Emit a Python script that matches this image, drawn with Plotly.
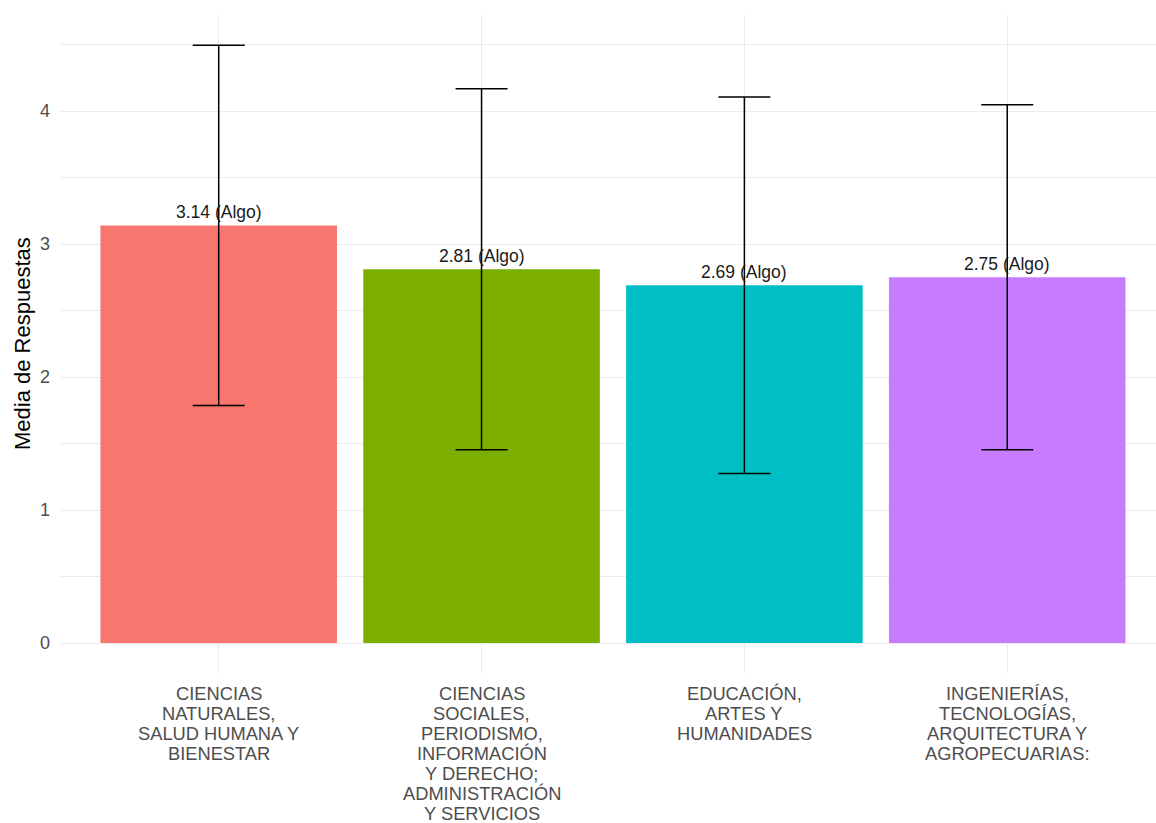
import plotly.graph_objects as go

categories = [
    "CIENCIAS\nNATURALES,\nSALUD HUMANA Y\nBIENESTAR",
    "CIENCIAS\nSOCIALES,\nPERIODISMO,\nINFORMACIÓN\nY DERECHO;\nADMINISTRACIÓN\nY SERVICIOS",
    "EDUCACIÓN,\nARTES Y\nHUMANIDADES",
    "INGENIERÍAS,\nTECNOLOGÍAS,\nARQUITECTURA Y\nAGROPECUARIAS:",
]
means = [3.14, 2.81, 2.69, 2.75]
sds = [1.354, 1.357, 1.415, 1.297]
value_labels = ["3.14 (Algo)", "2.81 (Algo)", "2.69 (Algo)", "2.75 (Algo)"]
colors = ["#F8766D", "#7CAE00", "#00BFC4", "#C77CFF"]
y_ticks = [0, 1, 2, 3, 4]

FONT = "Liberation Sans, Arial, sans-serif"

fig = go.Figure()
fig.add_trace(go.Bar(
    x=categories, y=means, width=0.9,
    marker=dict(color=colors, line=dict(width=0)),
    error_y=dict(type="data", array=sds, visible=True, color="black", thickness=1.5, width=26),
    hoverinfo="skip", showlegend=False,
))

annotations = []
for c, m, lab in zip(categories, means, value_labels):
    annotations.append(dict(x=c, y=m, xref="x", yref="y", text=lab, showarrow=False,
                            yanchor="bottom", yshift=1, font=dict(family=FONT, size=17.5, color="#1a1a1a")))
for c in categories:
    for i, line in enumerate(c.split("\n")):
        annotations.append(dict(x=c, y=0, xref="x", yref="paper", text=line, showarrow=False,
                                xanchor="center", yanchor="middle", yshift=-20 - 20.0 * i,
                                borderpad=0,
                                font=dict(family=FONT, size=18.3, color="#4D4D4D")))
annotations.append(dict(x=0, y=0.5, xref="paper", yref="paper", text="Media de Respuestas",
                        showarrow=False, textangle=-90, xanchor="center", yanchor="middle",
                        xshift=-39, font=dict(family=FONT, size=22, color="black")))

fig.update_layout(
    width=1156, height=823,
    margin=dict(l=61, r=0, t=15, b=150),
    paper_bgcolor="white", plot_bgcolor="white",
    annotations=annotations,
    bargap=0.1,
)
fig.update_xaxes(
    type="category", range=[-0.6, 3.566], showticklabels=False,
    showgrid=True, gridcolor="#EBEBEB", gridwidth=1.2, zeroline=False, showline=False, ticks="",
)
fig.update_yaxes(
    range=[-0.2256, 4.722], tickvals=y_ticks, ticktext=[str(v) for v in y_ticks],
    showgrid=True, gridcolor="#EBEBEB", gridwidth=1.2, zeroline=False, showline=False, ticks="",
    ticklabelstandoff=10,
    tickfont=dict(family=FONT, size=18, color="#4D4D4D"),
    minor=dict(dtick=0.5, tick0=0, showgrid=True, gridcolor="#EBEBEB", gridwidth=0.8),
)

fig.write_html("out.html", config={"displayModeBar": False},
               post_script="document.body.style.margin='0px';document.body.style.overflow='hidden';")
